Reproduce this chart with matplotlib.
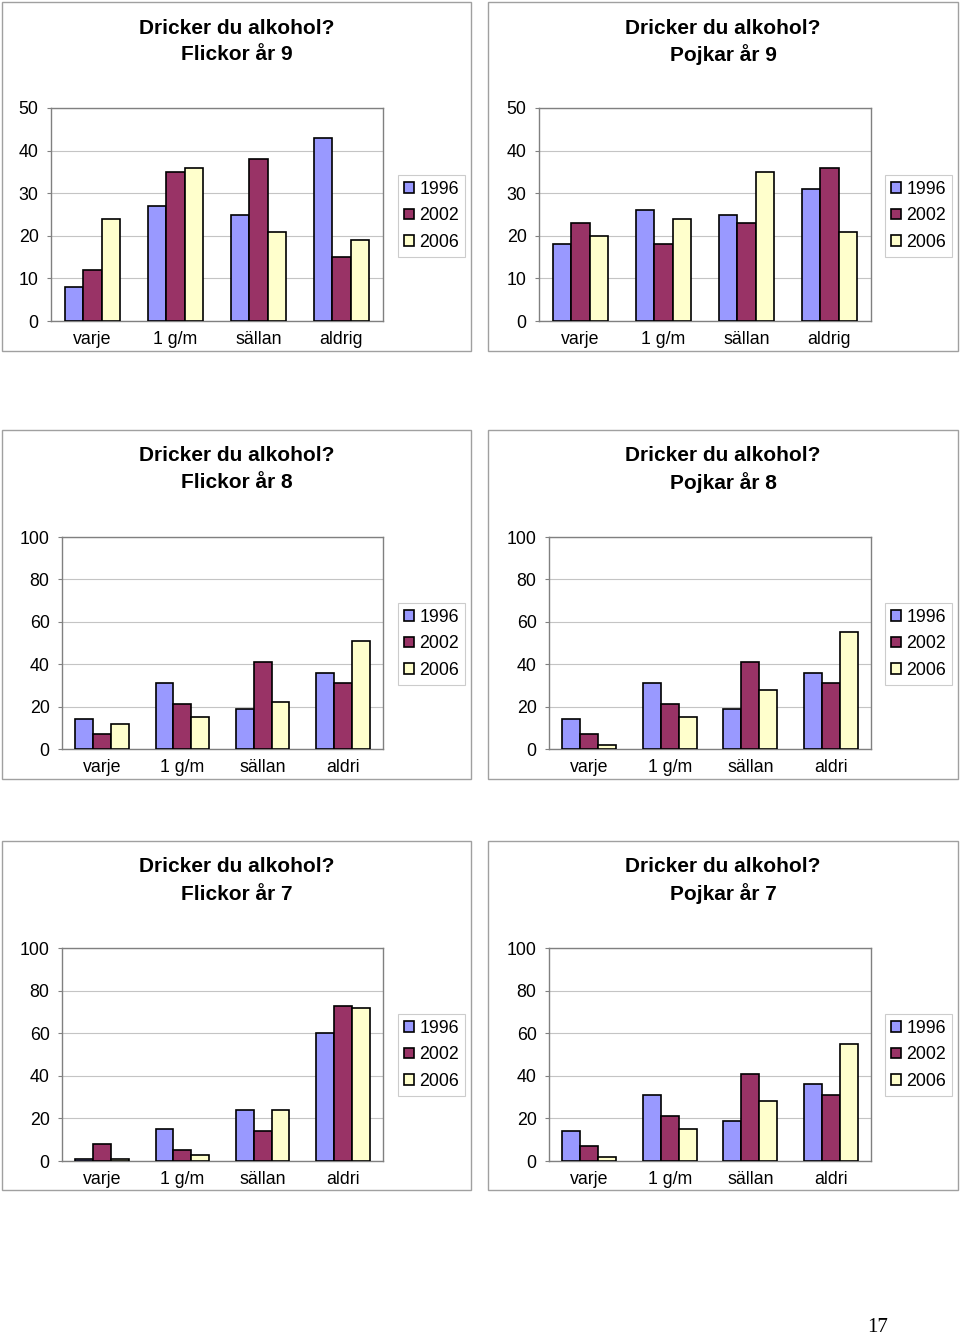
import matplotlib
matplotlib.use("Agg")
import matplotlib.pyplot as plt
from matplotlib.patches import Rectangle
import numpy as np

plt.rcParams['font.family'] = ['Liberation Sans', 'DejaVu Sans']

# ---------------- data ----------------
years = ["1996", "2002", "2006"]
cats_9 = ["varje", "1 g/m", "sällan", "aldrig"]
cats_78 = ["varje", "1 g/m", "sällan", "aldri"]

flickor9_1996 = [8, 27, 25, 43]
flickor9_2002 = [12, 35, 38, 15]
flickor9_2006 = [24, 36, 21, 19]

pojkar9_1996 = [18, 26, 25, 31]
pojkar9_2002 = [23, 18, 23, 36]
pojkar9_2006 = [20, 24, 35, 21]

flickor8_1996 = [14, 31, 19, 36]
flickor8_2002 = [7, 21, 41, 31]
flickor8_2006 = [12, 15, 22, 51]

pojkar8_1996 = [14, 31, 19, 36]
pojkar8_2002 = [7, 21, 41, 31]
pojkar8_2006 = [2, 15, 28, 55]

flickor7_1996 = [1, 15, 24, 60]
flickor7_2002 = [8, 5, 14, 73]
flickor7_2006 = [1, 3, 24, 72]

pojkar7_1996 = [14, 31, 19, 36]
pojkar7_2002 = [7, 21, 41, 31]
pojkar7_2006 = [2, 15, 28, 55]

title_line1 = "Dricker du alkohol?"
subtitles = ["Flickor år 9", "Pojkar år 9", "Flickor år 8", "Pojkar år 8",
             "Flickor år 7", "Pojkar år 7"]
yticks_9 = [0, 10, 20, 30, 40, 50]
yticks_78 = [0, 20, 40, 60, 80, 100]
page_number = "17"

colors = ["#9999FF", "#993366", "#FFFFCC"]

# ---------------- layout ----------------
W, H = 960, 1337
fig = plt.figure(figsize=(W / 100, H / 100), dpi=100)
fig.patch.set_facecolor("white")


def fx(x):
    return x / W


def fy(y):
    return 1 - y / H


panels = [
    (cats_9, [flickor9_1996, flickor9_2002, flickor9_2006], yticks_9),
    (cats_9, [pojkar9_1996, pojkar9_2002, pojkar9_2006], yticks_9),
    (cats_78, [flickor8_1996, flickor8_2002, flickor8_2006], yticks_78),
    (cats_78, [pojkar8_1996, pojkar8_2002, pojkar8_2006], yticks_78),
    (cats_78, [flickor7_1996, flickor7_2002, flickor7_2006], yticks_78),
    (cats_78, [pojkar7_1996, pojkar7_2002, pojkar7_2006], yticks_78),
]

box_tops = [2, 430, 841]
box_lefts = [2, 488]
box_rights = [471, 958]
box_h = 349
plot_y = [(108, 321), (537, 749), (948, 1161)]
plot_x_row1 = [(51, 383), (539, 871)]
plot_x_rows = [(62, 383), (549, 871)]
title_cx = [237, 723]
legend_x = [398, 885]

for idx, (cats, series, yt) in enumerate(panels):
    r, c = divmod(idx, 2)
    # outer box
    bl, br = box_lefts[c], box_rights[c]
    bt = box_tops[r]
    fig.patches.append(Rectangle((fx(bl), fy(bt + box_h)), fx(br - bl), box_h / H,
                                 transform=fig.transFigure, fill=False,
                                 edgecolor="#A0A0A0", linewidth=1.0, zorder=0))
    # titles
    fig.text(fx(title_cx[c]), fy(bt + 26), title_line1, ha="center", va="center",
             fontsize=15, fontweight="bold")
    fig.text(fx(title_cx[c]), fy(bt + 53), subtitles[idx], ha="center", va="center",
             fontsize=15, fontweight="bold")
    # axes
    x0, x1 = plot_x_row1[c] if r == 0 else plot_x_rows[c]
    y0, y1 = plot_y[r]
    ax = fig.add_axes([fx(x0), fy(y1), (x1 - x0) / W, (y1 - y0) / H])
    x = np.arange(len(cats))
    w = 0.222
    for k, (vals, col) in enumerate(zip(series, colors)):
        ax.bar(x + (k - 1) * w, vals, width=w, color=col, edgecolor="black",
               linewidth=1.2, label=years[k], zorder=3)
    ax.set_xlim(-0.5, len(cats) - 0.5)
    ax.set_ylim(yt[0], yt[-1])
    ax.set_yticks(yt)
    ax.set_yticklabels([str(v) for v in yt])
    ax.set_xticks(x)
    ax.set_xticklabels(cats)
    ax.tick_params(axis="y", length=3, width=0.8, color="#808080", pad=6,
                   labelsize=12.8)
    ax.tick_params(axis="x", length=0, pad=7.5, labelsize=12.8)
    ax.yaxis.grid(True, color="#C4C4C4", linewidth=0.8, zorder=0)
    ax.set_axisbelow(True)
    for s in ax.spines.values():
        s.set_color("#808080")
        s.set_linewidth(1.0)
    leg_top = bt + 173
    leg = ax.legend(loc="upper left",
                    bbox_to_anchor=(fx(legend_x[c]), fy(leg_top)),
                    bbox_transform=fig.transFigure, borderaxespad=0,
                    fontsize=12.8, frameon=True, fancybox=False,
                    handlelength=0.55, handleheight=0.55, handletextpad=0.3,
                    labelspacing=0.52, borderpad=0.34)
    leg.get_frame().set_edgecolor("#C0C0C0")
    leg.get_frame().set_linewidth(0.8)
    for p in leg.get_patches():
        p.set_linewidth(1.2)

fig.text(fx(878), fy(1327), page_number, ha="center", va="center", fontsize=15,
         family=["Liberation Serif", "DejaVu Serif"])

fig.savefig("out.png", dpi=100, facecolor="white")
